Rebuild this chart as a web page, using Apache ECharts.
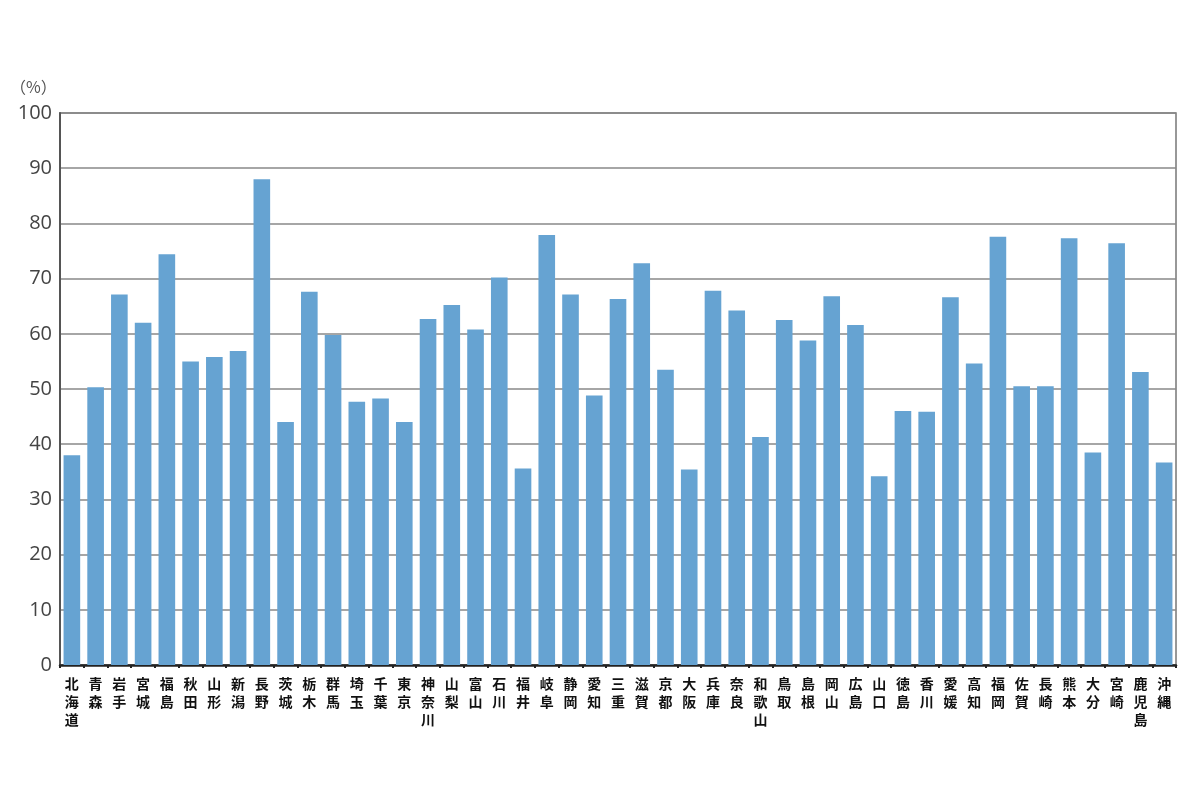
<!DOCTYPE html>
<html>
<head>
<meta charset="utf-8">
<script src="https://cdn.jsdelivr.net/npm/echarts@6/dist/echarts.min.js"></script>
<style>html,body{margin:0;padding:0;background:#fff}#c{width:1200px;height:800px}</style>
</head>
<body>
<div id="c"></div>
<script>
const prefectures = ['北海道','青森','岩手','宮城','福島','秋田','山形','新潟','長野','茨城','栃木','群馬','埼玉','千葉','東京','神奈川','山梨','富山','石川','福井','岐阜','静岡','愛知','三重','滋賀','京都','大阪','兵庫','奈良','和歌山','鳥取','島根','岡山','広島','山口','徳島','香川','愛媛','高知','福岡','佐賀','長崎','熊本','大分','宮崎','鹿児島','沖縄'];
const values = [38.0,50.3,67.1,62.0,74.4,55.0,55.8,56.9,88.0,44.0,67.6,59.8,47.7,48.3,44.0,62.7,65.2,60.8,70.2,35.6,77.9,67.1,48.8,66.3,72.8,53.5,35.4,67.8,64.2,41.3,62.5,58.8,66.8,61.6,34.2,46.0,45.9,66.6,54.6,77.6,50.5,50.5,77.3,38.5,76.4,53.1,36.7];
const yTicks = [0,10,20,30,40,50,60,70,80,90,100];
const unitLabel = '（%）';

const chart = echarts.init(document.getElementById('c'));
chart.setOption({
  animation: false,
  graphic: [{
    type: 'text', left: 10, top: 79,
    style: {text: unitLabel, font: '16px "Noto Sans CJK JP"', fill: '#555'}
  }],
  grid: {left: 60, right: 24, top: 113, bottom: 135, show: true, borderColor: '#777', borderWidth: 1.5, backgroundColor: 'transparent'},
  xAxis: {
    type: 'category',
    data: prefectures,
    axisLine: {lineStyle: {color: '#222', width: 2.5}},
    axisTick: {show: true, length: 3, lineStyle: {color: '#222', width: 2}},
    axisLabel: {
      interval: 0, margin: 10,
      formatter: v => v.split('').join('\n'),
      fontFamily: 'Noto Sans CJK JP', fontWeight: 'bold', fontSize: 14, lineHeight: 18, color: '#111'
    }
  },
  yAxis: {
    type: 'value', min: yTicks[0], max: yTicks[yTicks.length-1], interval: 10,
    axisLine: {show: true, lineStyle: {color: '#555', width: 2}},
    axisTick: {show: false},
    splitLine: {lineStyle: {color: '#888', width: 1.5}},
    axisLabel: {fontSize: 20, color: '#444', margin: 8, fontFamily: 'Open Sans'}
  },
  series: [{
    type: 'bar',
    data: values,
    barCategoryGap: '30%',
    itemStyle: {color: '#66a3d2'}
  }]
});
</script>
</body>
</html>
